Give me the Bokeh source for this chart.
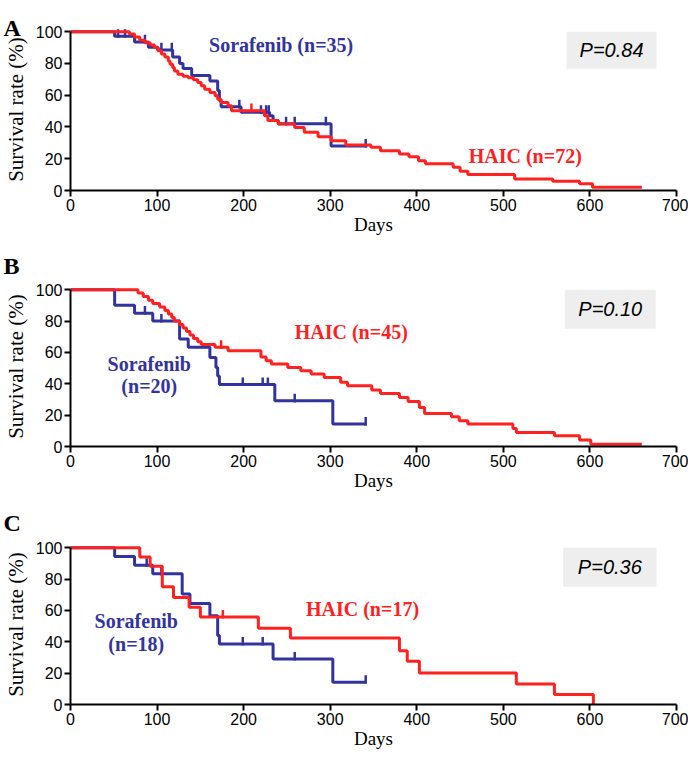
from bokeh.plotting import figure
from bokeh.layouts import column
from bokeh.models import Label, BoxAnnotation, FixedTicker, Range1d, Title
from bokeh.embed import file_html
from bokeh.resources import INLINE

# ---------------- data ----------------
x_ticks = [0, 100, 200, 300, 400, 500, 600, 700]
y_ticks = [0, 20, 40, 60, 80, 100]

# Panel A
a_sor_t = [51, 74, 90, 101, 118, 126, 130, 140, 161, 170, 172, 174, 197, 230, 234, 240, 301]
a_sor_s = [97.1, 93.5, 90.2, 88.5, 84.1, 79.9, 76.8, 72.4, 69.0, 63.0, 56.5, 52.7, 49.2, 47.0, 44.0, 42.0, 28.0]
a_sor_end = 343
a_sor_cens = [55, 63, 86, 105, 117, 195, 220, 226, 229, 249, 259, 295, 341]

a_haic_t = [68, 74, 80, 86, 92, 97, 101, 105, 109, 113, 115, 118, 120, 124, 130, 136, 142, 147,
            151, 155, 161, 167, 170, 174, 182, 186, 224, 228, 240, 259, 270, 286, 301, 318, 347,
            358, 380, 391, 402, 410, 442, 450, 459, 513, 557, 588, 603]
a_haic_s = [98.6, 96.6, 94.6, 93.0, 91.6, 90.0, 88.0, 86.0, 84.0, 81.6, 79.5, 77.4, 75.3, 73.2, 72.0,
            71.0, 69.7, 68.0, 66.0, 63.8, 61.7, 59.6, 57.5, 55.4, 53.3, 50.2, 47.1, 44.0, 41.8, 39.7,
            36.6, 33.9, 31.4, 28.7, 27.2, 25.1, 23.0, 21.3, 18.8, 16.8, 14.6, 12.1, 10.0, 7.3, 5.9,
            4.2, 2.1]
a_haic_end = 660
a_haic_cens = [209]

# Panel B
b_sor_t = [51, 74, 95, 126, 136, 161, 168, 170, 172, 236, 303]
b_sor_s = [90.0, 85.0, 80.0, 68.5, 63.2, 56.8, 50.4, 45.0, 39.5, 29.1, 14.3]
b_sor_end = 341
b_sor_cens = [86, 105, 199, 222, 228, 259, 341]

b_haic_t = [78, 84, 90, 95, 103, 109, 113, 117, 120, 126, 130, 134, 138, 142, 147, 151, 167, 182,
            220, 226, 232, 251, 266, 278, 293, 312, 320, 348, 358, 380, 390, 403, 409, 440, 449,
            459, 511, 515, 559, 588, 601]
b_haic_s = [97.8, 95.6, 93.3, 91.1, 88.9, 86.7, 84.4, 82.2, 80.0, 77.8, 75.6, 73.3, 71.1, 68.9, 66.7,
            65.0, 63.2, 61.0, 57.0, 54.7, 52.6, 50.4, 48.3, 46.2, 44.0, 41.0, 38.7, 36.0, 33.8, 31.3,
            28.7, 24.9, 21.0, 19.0, 16.4, 14.3, 11.5, 9.0, 6.8, 4.1, 1.5]
b_haic_end = 660
b_haic_cens = [174]

# Panel C
c_sor_t = [51, 74, 95, 129, 138, 161, 170, 172, 234, 303]
c_sor_s = [94.4, 88.8, 83.3, 70.5, 64.4, 56.6, 44.0, 38.6, 29.0, 14.2]
c_sor_end = 341
c_sor_cens = [88, 105, 199, 222, 259, 341]

c_haic_t = [80, 92, 106, 119, 137, 150, 217, 254, 380, 389, 403, 515, 559, 604]
c_haic_s = [94.1, 88.2, 75.0, 68.2, 62.0, 55.8, 48.6, 42.4, 34.3, 27.5, 20.1, 13.1, 6.4, 0.0]
c_haic_end = 604
c_haic_cens = [176]

BLUE = "#33339f"
RED = "#ff2020"


def km_path(times, levels, end):
    xs = [0.0] + list(times) + [end]
    ys = [100.0] + list(levels) + [levels[-1]]
    return xs, ys


def level_at(times, levels, t):
    s = 100.0
    for ti, li in zip(times, levels):
        if ti <= t:
            s = li
    return s


def make_panel(height, b_top, b_bottom, curves, letter, letter_standoff, pbox, ptext, labels):
    p = figure(width=688, height=height, output_backend="svg", toolbar_location=None,
               x_range=Range1d(0, 700), y_range=Range1d(0, 102),
               min_border_left=69, min_border_right=12, min_border_top=b_top,
               min_border_bottom=b_bottom)
    p.grid.visible = False
    p.outline_line_color = None
    p.background_fill_color = "white"
    p.border_fill_color = "white"

    p.xaxis.ticker = FixedTicker(ticks=x_ticks)
    p.yaxis.ticker = FixedTicker(ticks=y_ticks)
    p.yaxis.bounds = (0, 100)
    p.xaxis.bounds = (0, 700)
    for ax in (p.xaxis, p.yaxis):
        ax.axis_line_width = 2
        ax.axis_line_color = "black"
        ax.major_tick_line_width = 2
        ax.major_tick_line_color = "black"
        ax.major_tick_out = 6
        ax.major_tick_in = 0
        ax.minor_tick_line_color = None
        ax.major_label_text_font = "Liberation Sans"
        ax.major_label_text_font_size = "16px"
        ax.major_label_text_color = "black"
        ax.major_label_standoff = 2
        ax.axis_label_text_font = "Liberation Serif"
        ax.axis_label_text_font_style = "normal"
        ax.axis_label_text_color = "black"
    p.xaxis.axis_label = "Days"
    p.xaxis.axis_label_text_font_size = "19px"
    p.xaxis.axis_label_standoff = 0
    p.yaxis.axis_label = "Survival rate (%)"
    p.yaxis.axis_label_text_font_size = "21px"
    p.yaxis.axis_label_standoff = 5

    for (t, s, end, cens, color) in curves:
        xs, ys = km_path(t, s, end)
        p.step(xs, ys, mode="after", line_color=color, line_width=3)
        cy = [level_at(t, s, c) for c in cens]
        p.segment(x0=cens, y0=[v - 1 for v in cy], x1=cens, y1=[v + 4.5 for v in cy],
                  line_color=color, line_width=2.5)

    # p-value box
    l, r, b, tp = pbox
    p.add_layout(BoxAnnotation(left=l, right=r, bottom=b, top=tp, fill_color="#eeeeee",
                               fill_alpha=1.0, line_color=None, level="underlay"))
    p.add_layout(Label(x=(l + r) / 2, y=(b + tp) / 2, text=ptext, text_align="center",
                       text_baseline="middle", text_font="Liberation Sans",
                       text_font_style="italic", text_font_size="20px", text_color="black"))

    # panel letter as a title in the top margin
    p.add_layout(Title(text=letter, align="left", offset=-67, standoff=letter_standoff,
                       text_font="Liberation Serif", text_font_style="bold",
                       text_font_size="24px", text_color="black"), "above")

    for (txt, x, y, align, color) in labels:
        p.add_layout(Label(x=x, y=y, text=txt, text_align=align, text_baseline="middle",
                           text_font="Liberation Serif", text_font_style="bold",
                           text_font_size="20px", text_color=color))
    return p


pa = make_panel(242, 28, 52,
                [(a_sor_t, a_sor_s, a_sor_end, a_sor_cens, BLUE),
                 (a_haic_t, a_haic_s, a_haic_end, a_haic_cens, RED)],
                "A", -25, (573, 677, 76.7, 100), "P=0.84",
                [("Sorafenib (n=35)", 160, 91.5, "left", BLUE),
                 ("HAIC (n=72)", 460, 22, "left", RED)])

pb = make_panel(257, 44, 53,
                [(b_sor_t, b_sor_s, b_sor_end, b_sor_cens, BLUE),
                 (b_haic_t, b_haic_s, b_haic_end, b_haic_cens, RED)],
                "B", 16, (571, 676, 75, 100), "P=0.10",
                [("HAIC (n=45)", 259, 72.8, "left", RED),
                 ("Sorafenib", 91, 52.6, "center", BLUE),
                 ("(n=20)", 91, 38.7, "center", BLUE)])

pc = make_panel(261, 45, 56,
                [(c_sor_t, c_sor_s, c_sor_end, c_sor_cens, BLUE),
                 (c_haic_t, c_haic_s, c_haic_end, c_haic_cens, RED)],
                "C", 17, (569, 677, 75, 100), "P=0.36",
                [("HAIC (n=17)", 272, 60.8, "left", RED),
                 ("Sorafenib", 76, 53.4, "center", BLUE),
                 ("(n=18)", 76, 38.6, "center", BLUE)])

layout = column(pa, pb, pc, spacing=0)
open("out.html", "w").write(file_html(layout, INLINE))
